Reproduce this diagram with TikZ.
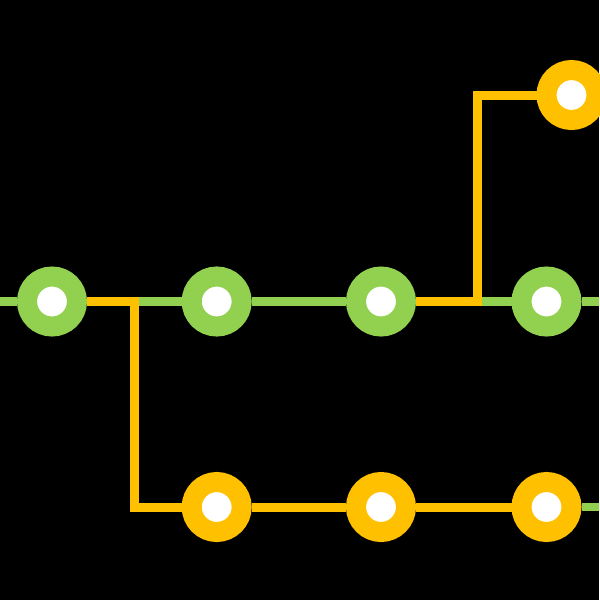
\documentclass[tikz,border=0pt]{standalone}
\usepackage{tikz}

\definecolor{stopgreen}{HTML}{92D050}
\definecolor{stopyellow}{HTML}{FFC000}

\tikzset{
  greenstop/.style={circle, fill=white, draw=stopgreen, line width=0.2cm,
    minimum size=0.5cm, inner sep=0pt, outer sep=0.1cm},
  yellowstop/.style={greenstop, draw=stopyellow},
  greenline/.style={draw=stopgreen, line width=0.085cm},
  yellowline/.style={draw=stopyellow, line width=0.09cm}
}

\begin{document}
\begin{tikzpicture}
    \fill[black] (0,0) rectangle (5.99,-6);
    \useasboundingbox (0,0) rectangle (5.99,-6);
    % middle row
    \node[greenstop] (g1) at (0.52,-3.015) {};
    \node[greenstop] (g2) at (2.167,-3.015) {};
    \node[greenstop] (g3) at (3.81,-3.015) {};
    \node[greenstop] (g4) at (5.465,-3.015) {};
    % bottom row
    \node[yellowstop] (y1) at (2.167,-5.07) {};
    \node[yellowstop] (y2) at (3.81,-5.07) {};
    \node[yellowstop] (y3) at (5.465,-5.07) {};
    % top
    \node[yellowstop] (t1) at (5.715,-0.95) {};
    \coordinate (midleft) at (0,-3.015);
    \coordinate (midright) at (5.99,-3.015);
    \coordinate (lowright) at (5.99,-5.07);

    \draw[greenline] (midleft) -- (g1.west);
    \draw[greenline] (g1.east) -- (g2.west);
    \draw[greenline] (g2.east) -- (g3.west);
    \draw[greenline] (g3.east) -- (g4.west);
    \draw[greenline] (g4.east) -- (midright);
    \draw[greenline] (y3.east) -- (lowright);

    \draw[yellowline] (g1.east) -- ++(0.475,0) |- (y1.west);
    \draw[yellowline] (y1.east) -- (y2.west);
    \draw[yellowline] (y2.east) -- (y3.west);
    \draw[yellowline] (g3.east) -- ++(0.61,0) |- (t1.west);
  \end{tikzpicture}
\end{document}
